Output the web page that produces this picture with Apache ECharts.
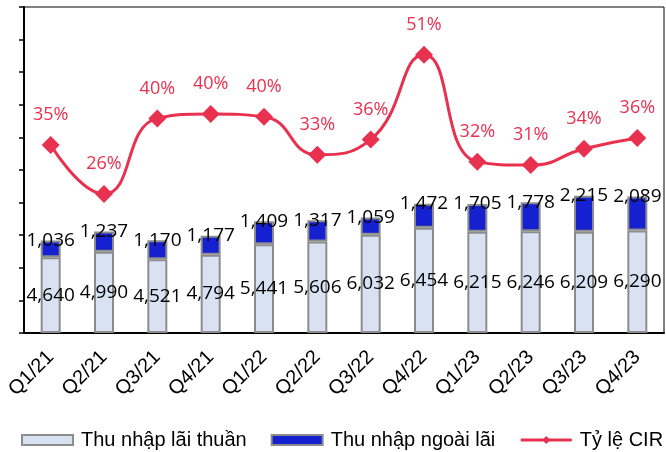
<!DOCTYPE html>
<html>
<head>
<meta charset="utf-8">
<script src="https://cdn.jsdelivr.net/npm/echarts@6/dist/echarts.min.js"></script>
<style>
  html, body { margin: 0; padding: 0; background: #fff; }
  #chart { width: 666px; height: 452px; }
</style>
</head>
<body>
<div id="chart"></div>
<script>
// quý
var quarters = ['Q1/21', 'Q2/21', 'Q3/21', 'Q4/21', 'Q1/22', 'Q2/22', 'Q3/22', 'Q4/22', 'Q1/23', 'Q2/23', 'Q3/23', 'Q4/23'];
// thu nhập lãi thuần
var netInterest = [4640, 4990, 4521, 4794, 5441, 5606, 6032, 6454, 6215, 6246, 6209, 6290];
// thu nhập ngoài lãi
var nonInterest = [1036, 1237, 1170, 1177, 1409, 1317, 1059, 1472, 1705, 1778, 2215, 2089];
// tỷ lệ CIR (%)
var cir = [34.6, 25.6, 39.5, 40.3, 39.8, 32.8, 35.6, 51.2, 31.5, 30.9, 33.9, 35.9];
var cirLabels = ['35%', '26%', '40%', '40%', '40%', '33%', '36%', '51%', '32%', '31%', '34%', '36%'];

var numFont = '"Open Sans", sans-serif';
var txtFont = '"Liberation Sans", Arial, sans-serif';
var pink = '#e8304f';

var chart = echarts.init(document.getElementById('chart'));
var fmt = function (p) { return p.value.toLocaleString('en-US'); };

var option = {
    animation: false,
    backgroundColor: '#fff',
    grid: {
        left: 24, right: 2, top: 7, bottom: 119,
        show: true, borderColor: '#000', borderWidth: 1
    },
    legend: {
        left: 16, top: 425, width: 720,
        itemWidth: 51, itemHeight: 10, itemGap: 24,
        textStyle: { fontFamily: txtFont, fontSize: 20, color: '#000', padding: [0, 0, 0, 3] },
        data: [
            { name: 'Thu nhập lãi thuần', icon: 'rect' },
            { name: 'Thu nhập ngoài lãi', icon: 'rect' },
            { name: 'Tỷ lệ CIR', lineStyle: { width: 3 } }
        ]
    },
    xAxis: {
        type: 'category',
        data: quarters,
        axisLine: { lineStyle: { color: '#000', width: 2 } },
        axisTick: { length: 6, lineStyle: { color: '#000', width: 1.5 } },
        axisLabel: { rotate: 45, margin: 21, fontFamily: txtFont, fontSize: 20, color: '#000' }
    },
    yAxis: [{
        type: 'value', min: 0, max: 20000, interval: 2000,
        axisLine: { show: true, lineStyle: { color: '#000', width: 2 } },
        axisTick: { show: true, length: 5, lineStyle: { color: '#000', width: 1.5 } },
        axisLabel: { show: false },
        splitLine: { show: false }
    }, {
        type: 'value', min: 0, max: 60, show: false,
        splitLine: { show: false }
    }],
    series: [{
        name: 'Thu nhập lãi thuần',
        type: 'bar', stack: 'tn', barWidth: 20,
        data: netInterest,
        itemStyle: { color: '#d9e2f3', borderColor: '#8c8c8c', borderWidth: 2 },
        label: { show: true, position: 'inside', formatter: fmt, fontFamily: numFont, fontSize: 19, color: '#000' }
    }, {
        name: 'Thu nhập ngoài lãi',
        type: 'bar', stack: 'tn', barWidth: 20,
        data: nonInterest,
        itemStyle: { color: '#1520d0', borderColor: '#8c8c8c', borderWidth: 2 },
        label: {
            show: true, position: ['50%', 0], align: 'center', verticalAlign: 'middle',
            formatter: fmt, fontFamily: numFont, fontSize: 19, color: '#000'
        }
    }, {
        name: 'Tỷ lệ CIR',
        type: 'line', yAxisIndex: 1, smooth: 0.5,
        data: cir,
        symbol: 'diamond', symbolSize: 18,
        lineStyle: { color: pink, width: 3 },
        itemStyle: { color: pink },
        label: {
            show: true, position: 'top', distance: 12,
            formatter: function (p) { return cirLabels[p.dataIndex]; },
            fontFamily: numFont, fontSize: 18, color: pink
        }
    }]
};
chart.setOption(option);
</script>
</body>
</html>
